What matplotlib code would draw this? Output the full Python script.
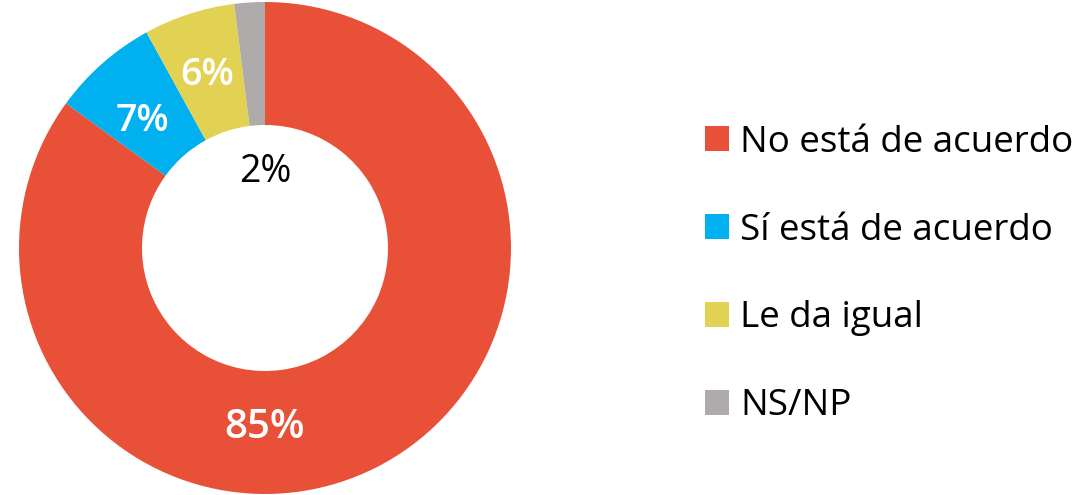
import numpy as np
import matplotlib.pyplot as plt
from matplotlib.patches import Patch

plt.rcParams['font.family'] = ['Open Sans', 'DejaVu Sans']

labels = ['No está de acuerdo', 'Sí está de acuerdo', 'Le da igual', 'NS/NP']
values = [85, 7, 6, 2]
colors = ['#E85137', '#00B0EF', '#E2D253', '#AFABAB']
pct_text = ['85%', '7%', '6%', '2%']

fig = plt.figure(figsize=(10.82, 4.95), dpi=100)
ax = fig.add_axes([19 / 1082, 1 / 495, 492 / 1082, 492 / 495])
wedges, _ = ax.pie(values, colors=colors, startangle=90, counterclock=False,
                   radius=1, wedgeprops=dict(width=0.5, linewidth=0))
ax.set_xlim(-1, 1)
ax.set_ylim(-1, 1)
ax.set_aspect('equal')
ax.axis('off')

# label placement: angle (deg) and radius for each wedge label
lab_ang = [-90, 134, 108.5, 90]
lab_r = [0.73, 0.72, 0.74, 0.31]
lab_col = ['white', 'white', 'white', 'black']
lab_wt = ['semibold', 'semibold', 'semibold', 'normal']
lab_fs = [29, 27, 27, 27]
for t, a, r, c, w, fs in zip(pct_text, lab_ang, lab_r, lab_col, lab_wt, lab_fs):
    ax.text(r * np.cos(np.radians(a)), r * np.sin(np.radians(a)), t,
            ha='center', va='center', color=c, fontsize=fs, fontweight=w)

handles = [Patch(facecolor=c, edgecolor='none') for c in colors]
fig.legend(handles, labels, loc='center left', bbox_to_anchor=(705 / 1082, 220.5 / 495),
           frameon=False, fontsize=26.5, handlelength=0.65, handleheight=0.65,
           handletextpad=0.3, labelspacing=1.41, borderaxespad=0, borderpad=0)

fig.savefig('out.png', dpi=100)
